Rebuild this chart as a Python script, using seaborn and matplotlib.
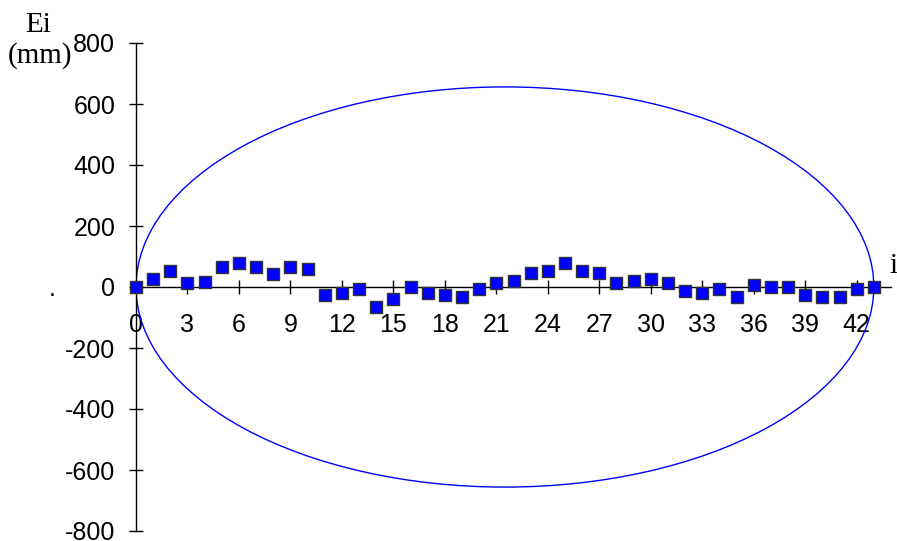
import numpy as np
import pandas as pd
import matplotlib
matplotlib.use('Agg')
import matplotlib.pyplot as plt
import seaborn as sns
from matplotlib.patches import Ellipse

# ---- data ----
index_i = list(range(44))
ei_mm = [0, 26, 53, 14, 15, 67, 80, 67, 41, 67, 60,
         -26, -21, -7, -66, -39, -1, -21, -27, -33, -7,
         14, 21, 46, 53, 80, 53, 46, 14, 21, 27, 14,
         -13, -20, -5, -33, 7, 0, 0, -26, -34, -34, -7, 0]
x_ticks = list(range(0, 43, 3))
y_ticks = [-800, -600, -400, -200, 0, 200, 400, 600, 800]
ellipse_center_x = 21.5
ellipse_center_y = 0
ellipse_width = 43
ellipse_height = 1312

df = pd.DataFrame({"i": index_i, "Ei": ei_mm})

sns.set_style("white")
plt.rcParams['font.family'] = ['Liberation Sans', 'DejaVu Sans']
plt.rcParams['text.color'] = 'black'
plt.rcParams['xtick.color'] = 'black'
plt.rcParams['ytick.color'] = 'black'
plt.rcParams['xtick.labelcolor'] = 'black'
plt.rcParams['ytick.labelcolor'] = 'black'

fig = plt.figure(figsize=(8.97, 5.41), dpi=100)
ax = fig.add_axes([136/897, 10/541, 755/897, 488/541])

ell = Ellipse((ellipse_center_x, ellipse_center_y), ellipse_width, ellipse_height,
              fill=False, edgecolor='#0000FF', linewidth=1.0, zorder=2)
ax.add_patch(ell)

sns.scatterplot(data=df, x="i", y="Ei", marker='s', color='#0000FF', s=72,
                edgecolor='#333333', linewidth=1.0, ax=ax, zorder=5, clip_on=False)

ax.set_xlim(0, 44)
ax.set_ylim(-800, 800)
ax.set_xticks(x_ticks)
ax.set_yticks(y_ticks)
ax.set_xticklabels([str(t) for t in x_ticks])
ax.set_yticklabels([str(t) for t in y_ticks])
ax.set_xlabel("")
ax.set_ylabel("")

ax.spines['top'].set_visible(False)
ax.spines['right'].set_visible(False)
ax.spines['bottom'].set_position(('data', 0))
for sp in ('left', 'bottom'):
    ax.spines[sp].set_color('black')
    ax.spines[sp].set_linewidth(1.0)
    ax.spines[sp].set_zorder(3)

ax.tick_params(axis='x', direction='inout', length=10, width=1, color='black',
               labelcolor='black', labelsize=18, pad=14, bottom=True)
ax.tick_params(axis='y', direction='inout', length=10, width=1, color='black',
               labelcolor='black', labelsize=18, pad=10, left=True)
ax.patch.set_alpha(0)

serif = ['Liberation Serif', 'DejaVu Serif']
fig.text(38/897, 1 - 32/541, "Ei", family=serif, fontsize=21, color='black',
         ha='center', va='baseline')
fig.text(40/897, 1 - 63/541, "(mm)", family=serif, fontsize=21, color='black',
         ha='center', va='baseline')
fig.text(893/897, 1 - 273/541, "i", family=serif, fontsize=21, color='black',
         ha='center', va='baseline')
fig.text(52/897, 1 - 296/541, ".", fontsize=18, color='black', ha='center', va='baseline')

fig.savefig("out.png", dpi=100)
